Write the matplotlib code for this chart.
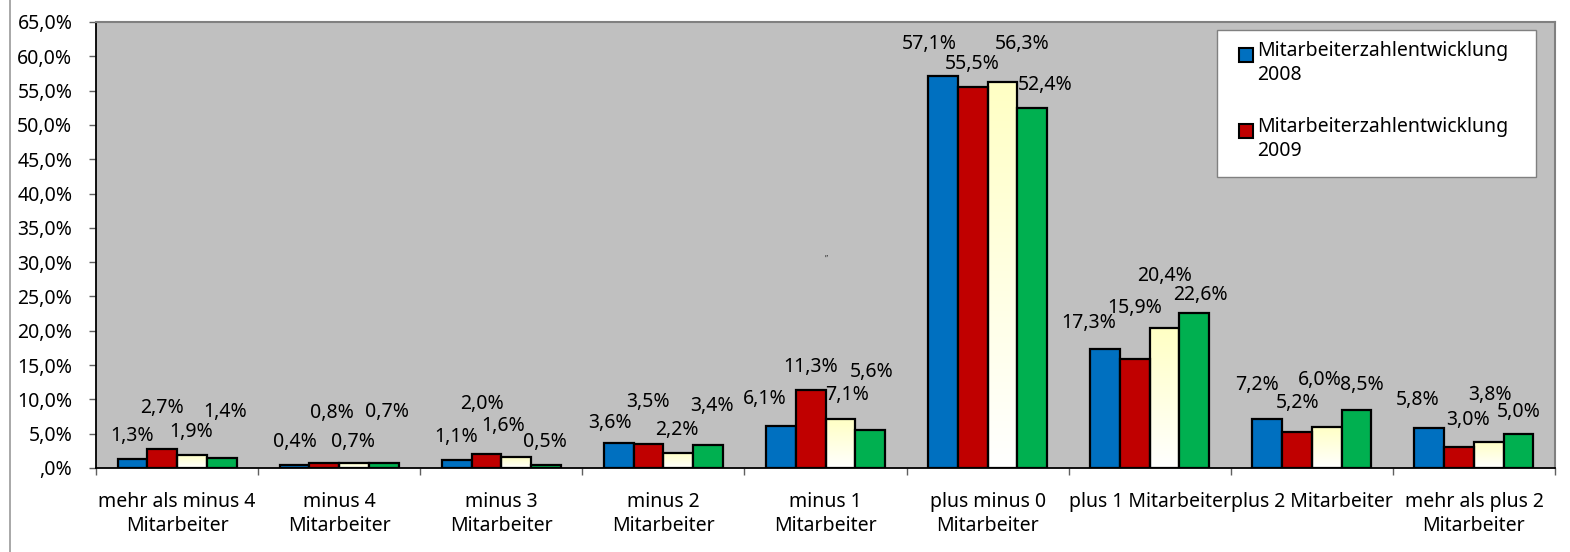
import numpy as np
import matplotlib
matplotlib.use("Agg")
import matplotlib.pyplot as plt
from matplotlib.patches import Rectangle
from matplotlib.lines import Line2D
from matplotlib.ticker import FuncFormatter, FixedLocator
from matplotlib.colors import LinearSegmentedColormap

# ---- data -----------------------------------------------------------------
categories = [
    "mehr als minus 4\nMitarbeiter",
    "minus 4\nMitarbeiter",
    "minus 3\nMitarbeiter",
    "minus 2\nMitarbeiter",
    "minus 1\nMitarbeiter",
    "plus minus 0\nMitarbeiter",
    "plus 1 Mitarbeiter",
    "plus 2 Mitarbeiter",
    "mehr als plus 2\nMitarbeiter",
]
values_2008 = [1.3, 0.4, 1.1, 3.6, 6.1, 57.1, 17.3, 7.2, 5.8]
values_2009 = [2.7, 0.8, 2.0, 3.5, 11.3, 55.5, 15.9, 5.2, 3.0]
values_s3 = [1.9, 0.7, 1.6, 2.2, 7.1, 56.3, 20.4, 6.0, 3.8]
values_s4 = [1.4, 0.7, 0.5, 3.4, 5.6, 52.4, 22.6, 8.5, 5.0]
legend_labels = ["Mitarbeiterzahlentwicklung\n2008", "Mitarbeiterzahlentwicklung\n2009"]
y_ticks = list(range(0, 70, 5))

# ---- styling --------------------------------------------------------------
series = [values_2008, values_2009, values_s3, values_s4]
colors = ["#0070C0", "#C00000", None, "#00B050"]  # None -> yellow gradient
# label offsets (pixels) from the top centre of each bar
label_offsets = [
    [(0, 23), (0, 23), (0, 23.5), (-9, 20), (-16, 27), (-14, 32), (-16, 26), (-10, 34), (-12, 28)],
    [(0, 41.5), (8, 50), (-4, 50), (-1, 42), (0, 23), (0, 23), (0, 51), (1, 29), (9, 27)],
    [(-1, 23), (-1, 21), (-13, 31), (-1, 23), (7, 24), (20, 38), (0, 52), (-7, 47), (1, 47)],
    [(3, 46), (3, 51), (-1, 23), (4, 39), (2, 58), (13, 23), (6, 18), (5, 25), (0, 22)],
]

FONT = "Noto Sans"
FS = 14
TXT = "#000000"
plt.rcParams["font.family"] = [FONT, "DejaVu Sans"]
plt.rcParams["font.size"] = FS

W, H, DPI = 1570, 552, 100
fig = plt.figure(figsize=(W / DPI, H / DPI), dpi=DPI)
fig.patch.set_facecolor("white")


def fx(px):
    return px / W


def fy(py):
    return 1 - py / H


ax = fig.add_axes([fx(96), fy(468), fx(1555) - fx(96), fy(22) - fy(468)])
ax.set_facecolor("#C0C0C0")

n_cat = len(categories)
x = np.arange(n_cat)
bw = 29.75 / 162.0
yellow_cmap = LinearSegmentedColormap.from_list("yel", ["#FFFFFF", "#FFFFC4"])
grad = np.linspace(0, 1, 256).reshape(-1, 1)

for s, vals in enumerate(series):
    xs = x + (s - 1.5) * bw
    if colors[s] is None:
        bars = ax.bar(xs, vals, width=bw, facecolor="none", edgecolor="black",
                      linewidth=1.6, zorder=3)
        for b in bars:
            x0, w_, h_ = b.get_x(), b.get_width(), b.get_height()
            im = ax.imshow(grad, cmap=yellow_cmap, origin="lower", aspect="auto",
                           extent=[x0, x0 + w_, 0, h_], zorder=2)
            im.set_clip_path(b)
    else:
        bars = ax.bar(xs, vals, width=bw, color=colors[s], edgecolor="black",
                      linewidth=1.6, zorder=3)
    for i, v in enumerate(vals):
        dx, dy = label_offsets[s][i]
        ax.annotate(f"{v:.1f}%".replace(".", ","), xy=(xs[i], v),
                    xytext=(dx, dy), textcoords="offset pixels",
                    ha="center", va="center", fontsize=FS, color=TXT,
                    zorder=5)

ax.set_xlim(-0.5, n_cat - 0.5)
ax.set_ylim(0, 65)

# axes frame
for side in ("left", "bottom"):
    ax.spines[side].set_color("black")
    ax.spines[side].set_linewidth(1.3)
for side in ("top", "right"):
    ax.spines[side].set_color("#808080")
    ax.spines[side].set_linewidth(1.5)

ax.yaxis.set_major_locator(FixedLocator(y_ticks))
ax.yaxis.set_major_formatter(FuncFormatter(
    lambda v, p: ",0%" if v == 0 else f"{v:.1f}%".replace(".", ",")))
ax.tick_params(axis="y", length=5, width=1, color="#606060", pad=12,
               labelsize=FS, labelcolor=TXT)

ax.set_xticks(x)
ax.set_xticklabels(categories, linespacing=1.3)
ax.set_xticks(np.arange(-0.5, n_cat, 1.0), minor=True)
ax.tick_params(axis="x", which="major", length=0, pad=17, labelsize=FS,
               labelcolor=TXT)
ax.tick_params(axis="x", which="minor", length=5, width=1, color="#606060")

# legend box drawn on the figure
fig.add_artist(Rectangle((fx(1217), fy(177)), fx(1536) - fx(1217), fy(30) - fy(177),
                         transform=fig.transFigure, facecolor="white",
                         edgecolor="#808080", linewidth=1.0, zorder=10))
legend_rows = [55, 131]
for color, label, yc in zip(colors[:2], legend_labels, legend_rows):
    fig.add_artist(Rectangle((fx(1239), fy(yc + 7)), fx(14), fy(0) - fy(14),
                             transform=fig.transFigure, facecolor=color,
                             edgecolor="black", linewidth=1.5, zorder=11))
    fig.text(fx(1257), fy(yc - 14), label, ha="left", va="top",
             fontsize=FS, color=TXT, linespacing=1.3, zorder=12)

# small stray mark inside the plot area
fig.text(fx(826), fy(259), "\u201d", ha="center", va="center", fontsize=6,
         color="#333333")

# left frame line of the chart object
fig.add_artist(Line2D([fx(10), fx(10)], [0, 1], transform=fig.transFigure,
                      color="#9A9A9A", linewidth=1.2))

fig.savefig("out.png", dpi=DPI, facecolor="white")
